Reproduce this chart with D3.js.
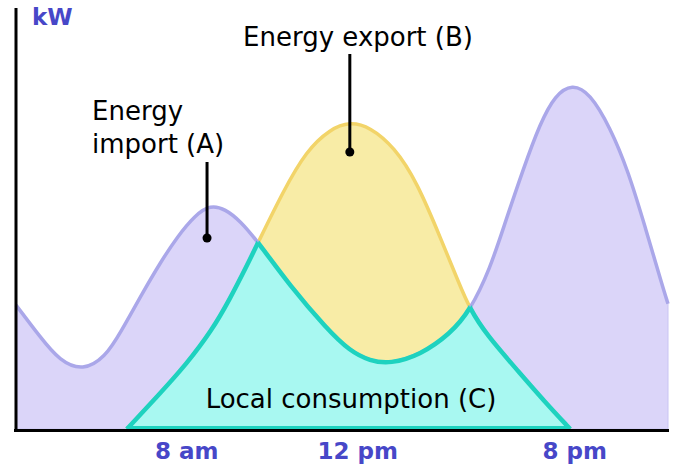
<!DOCTYPE html>
<html>
<head>
<meta charset="utf-8">
<script src="https://cdn.jsdelivr.net/npm/d3@7"></script>
<style>
  body { margin: 0; background: #fff; }
  text { font-family: "DejaVu Sans", Verdana, sans-serif; }
</style>
</head>
<body>
<script>
// Load curve (energy consumption), schematic units
const loadX = [0, 3.7, 6.7, 10.3, 13.7, 16.0, 19.5, 22.1, 24.7, 27.5, 29.8, 32.1, 34.4, 37.1,
               42.0, 47.7, 51.2, 54.3, 57.4, 62.0, 66.6, 69.6, 72.7, 75.0, 77.8, 80.4, 82.7,
               85.3, 88.0, 91.1, 93.9, 96.5, 99.1, 100];
const loadY = [31.0, 23.0, 17.0, 14.5, 18.0, 24.0, 34.3, 41.5, 48.0, 53.5, 56.0, 55.0, 52.0, 46.8,
               35.8, 25.0, 19.5, 17.0, 16.3, 18.5, 23.8, 29.5, 40.0, 51.5, 65.0, 76.5, 83.5,
               86.3, 84.0, 75.5, 64.5, 50.5, 36.0, 31.3];

// Solar production curve
const solarX = [17.0, 21.6, 26.2, 30.1, 32.8, 35.4, 37.1, 41.0, 44.5, 48.2, 51.2, 54.3, 58.0,
                61.5, 65.3, 67.8, 69.6, 72.2, 77.0, 81.1, 85.0];
const solarY = [0, 8.0, 16.3, 24.8, 32.5, 40.8, 46.5, 59.5, 69.5, 75.0, 76.8, 75.5, 70.5,
                61.8, 47.0, 37.0, 30.0, 23.5, 14.5, 6.8, 0];

// Axis ticks
const tickPos = [26.2, 52.4, 85.7];
const tickLabels = ["8 am", "12 pm", "8 pm"];

// Annotations: pointer top and dot position (data units)
const notes = [
  {x: 29.3, yTop: 66.75, yDot: 47.75},
  {x: 51.2, yTop: 93.75, yDot: 69.25}
];

const width = 680, height = 468;

const svg = d3.select("body")
  .append("svg")
    .attr("width", width)
    .attr("height", height);

const x = d3.scaleLinear().domain([0, 100]).range([16, 668]);
const y = d3.scaleLinear().domain([0, 100]).range([429, 29]);

const load = loadX.map((d, i) => ({x: d, y: loadY[i]}));
const solar = solarX.map((d, i) => ({x: d, y: solarY[i]}));

const area = d3.area()
    .x(d => x(d.x))
    .y0(y(0))
    .y1(d => y(d.y))
    .curve(d3.curveBasis);
const line = d3.line()
    .x(d => x(d.x))
    .y(d => y(d.y))
    .curve(d3.curveBasis);

const defs = svg.append("defs");
defs.append("clipPath").attr("id", "clipLoad")
  .append("path").attr("d", area(load));
defs.append("clipPath").attr("id", "clipSolar")
  .append("path").attr("d", area(solar));

// Load area
svg.append("path")
    .attr("d", area(load))
    .attr("fill", "#dbd5f9")
    .attr("stroke", "#c9c4f3")
    .attr("stroke-width", 1);

// Solar area
svg.append("path")
    .attr("d", area(solar))
    .attr("fill", "#f8eca6");
svg.append("path")
    .attr("d", line(solar))
    .attr("fill", "none")
    .attr("stroke", "#f2d469")
    .attr("stroke-width", 3.5);

// Load line
svg.append("path")
    .attr("d", line(load))
    .attr("fill", "none")
    .attr("stroke", "#aaa7e9")
    .attr("stroke-width", 3.5);

// Local consumption = overlap of the two
svg.append("path")
    .attr("d", area(solar))
    .attr("clip-path", "url(#clipLoad)")
    .attr("fill", "#a8f8f1");
svg.append("path")
    .attr("d", line(solar))
    .attr("clip-path", "url(#clipLoad)")
    .attr("fill", "none")
    .attr("stroke", "#1ed2bf")
    .attr("stroke-width", 4.5);
svg.append("path")
    .attr("d", line(load))
    .attr("clip-path", "url(#clipSolar)")
    .attr("fill", "none")
    .attr("stroke", "#1ed2bf")
    .attr("stroke-width", 4.5);
svg.append("line")
    .attr("x1", x(solarX[0])).attr("x2", x(solarX[solarX.length - 1]))
    .attr("y1", y(0) - 1).attr("y2", y(0) - 1)
    .attr("stroke", "#1ed2bf")
    .attr("stroke-width", 4);

// Axes
svg.append("line")
    .attr("x1", 16).attr("x2", 16)
    .attr("y1", 8).attr("y2", 432)
    .attr("stroke", "#000").attr("stroke-width", 3);
svg.append("line")
    .attr("x1", 14).attr("x2", 669)
    .attr("y1", 430.5).attr("y2", 430.5)
    .attr("stroke", "#000").attr("stroke-width", 3);

svg.append("text")
    .attr("x", 32).attr("y", 25)
    .attr("fill", "#4747c8")
    .style("font-size", "23px")
    .style("font-weight", "bold")
    .text("kW");

svg.selectAll(".tick")
  .data(tickPos)
  .enter()
  .append("text")
    .attr("class", "tick")
    .attr("x", d => x(d))
    .attr("y", 459)
    .attr("text-anchor", "middle")
    .attr("fill", "#4747c8")
    .style("font-size", "23px")
    .style("font-weight", "bold")
    .text((d, i) => tickLabels[i]);

// Annotations
notes.forEach(function(n) {
  svg.append("line")
      .attr("x1", x(n.x)).attr("x2", x(n.x))
      .attr("y1", y(n.yTop)).attr("y2", y(n.yDot))
      .attr("stroke", "#000").attr("stroke-width", 3);
  svg.append("circle")
      .attr("cx", x(n.x)).attr("cy", y(n.yDot))
      .attr("r", 4.5)
      .attr("fill", "#000");
});

svg.append("text")
    .attr("x", 92).attr("y", 120)
    .style("font-size", "26px")
    .text("Energy");
svg.append("text")
    .attr("x", 92).attr("y", 153)
    .style("font-size", "26px")
    .text("import (A)");
svg.append("text")
    .attr("x", 358).attr("y", 46)
    .attr("text-anchor", "middle")
    .style("font-size", "26px")
    .text("Energy export (B)");
svg.append("text")
    .attr("x", 351).attr("y", 408)
    .attr("text-anchor", "middle")
    .style("font-size", "26px")
    .text("Local consumption (C)");
</script>
</body>
</html>
